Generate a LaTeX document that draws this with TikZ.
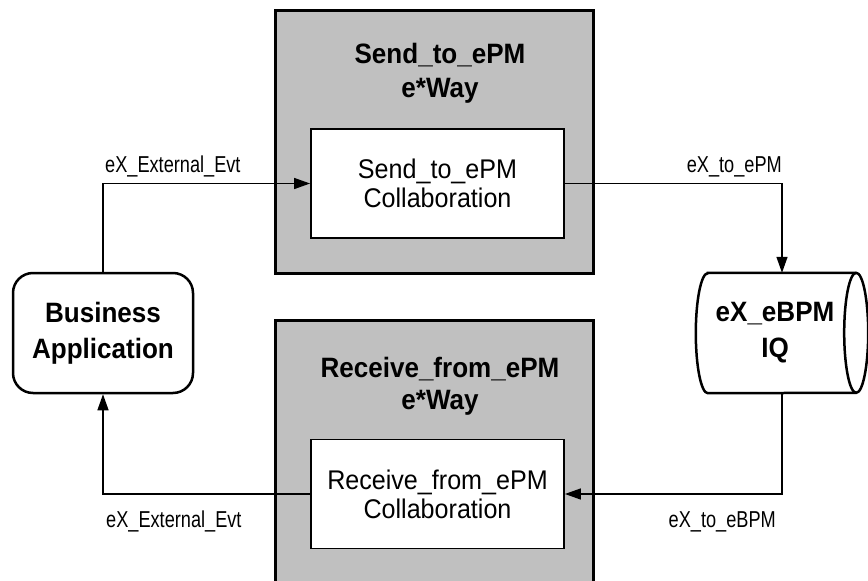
\documentclass[tikz,border=0pt]{standalone}
\usepackage{fontspec}
\setmainfont{Liberation Sans}
\newfontfamily\lblfont{Liberation Sans}[FakeStretch=0.79]
\newfontfamily\boxfont{Liberation Sans}[FakeStretch=0.93]
\usetikzlibrary{arrows.meta,calc}
\definecolor{wayfill}{RGB}{192,192,192}
\begin{document}
\begin{tikzpicture}[x=1pt,y=-1pt,
  wayframe/.style={draw, line width=3pt, fill=wayfill, minimum width=318pt, minimum height=263pt, inner sep=0pt},
  collab/.style={draw, line width=1.8pt, fill=white, minimum width=253pt, minimum height=109pt, inner sep=0pt, align=center, font=\boxfont\fontsize{27}{29}\selectfont},
  waytitle/.style={inner sep=0pt, font=\boxfont\bfseries\fontsize{28}{33}\selectfont},
  endpoint/.style={draw, line width=2.5pt, fill=white, rounded corners=20pt, minimum width=180pt, minimum height=120pt, inner sep=0pt, align=center, font=\boxfont\bfseries\fontsize{28}{36}\selectfont},
  flow/.style={line width=1.4pt, -{Triangle[length=16pt,width=11pt]}},
  lbl/.style={inner sep=0pt, font=\lblfont\fontsize{23}{26}\selectfont},
]
\clip (0,0) rectangle (868,581);
\fill[white] (0,0) rectangle (868,581);

% e*Way frames
\node[wayframe] (wayA) at (434,141.5) {};
\node[wayframe] (wayB) at (434,451.5) {};
\node[waytitle, anchor=base] (tA1) at (440,63) {Send\_to\_ePM};
\node[waytitle, anchor=base] (tA2) at (440,97) {e*Way};
\node[waytitle, anchor=base] (tB1) at (440,377) {Receive\_from\_ePM};
\node[waytitle, anchor=base] (tB2) at (440,409) {e*Way};

% collaborations
\node[collab] (c1) at (437.5,183.5) {Send\_to\_ePM\\Collaboration};
\node[collab] (c2) at (437.5,494) {Receive\_from\_ePM\\Collaboration};

% business application
\node[endpoint] (ba) at (103,333) {Business\\Application};

% queue (cylinder)
\node[minimum width=148pt, minimum height=120pt, inner sep=0pt] (q) at (782,333) {};
\path[draw, line width=2.5pt, fill=white]
  (q.north west) -- (q.north east)
  arc[start angle=90, end angle=-90, x radius=12pt, y radius=60pt]
  -- (q.south west)
  arc[start angle=270, end angle=90, x radius=12pt, y radius=60pt] -- cycle;
\draw[line width=2.5pt] (q.north east)
  arc[start angle=90, end angle=270, x radius=12pt, y radius=60pt];
\node[align=center, inner sep=0pt, font=\boxfont\bfseries\fontsize{28}{36}\selectfont] (qt) at ($(q.center)+(-7,0)$) {eX\_eBPM\\IQ};

% connectors
\draw[flow] (ba.north) |- (c1.west);
\draw[flow] (c1.east) -| (q.north);
\draw[flow] (q.south) |- (c2.east);
\draw[flow] (c2.west) -| (ba.south);

% labels
\node[lbl, anchor=base west] (l1) at (105,172) {eX\_External\_Evt};
\node[lbl, anchor=base east] (l2) at (782,172) {eX\_to\_ePM};
\node[lbl, anchor=base west] (l3) at (106,527) {eX\_External\_Evt};
\node[lbl, anchor=base east] (l4) at (776,527) {eX\_to\_eBPM};
\end{tikzpicture}
\end{document}
